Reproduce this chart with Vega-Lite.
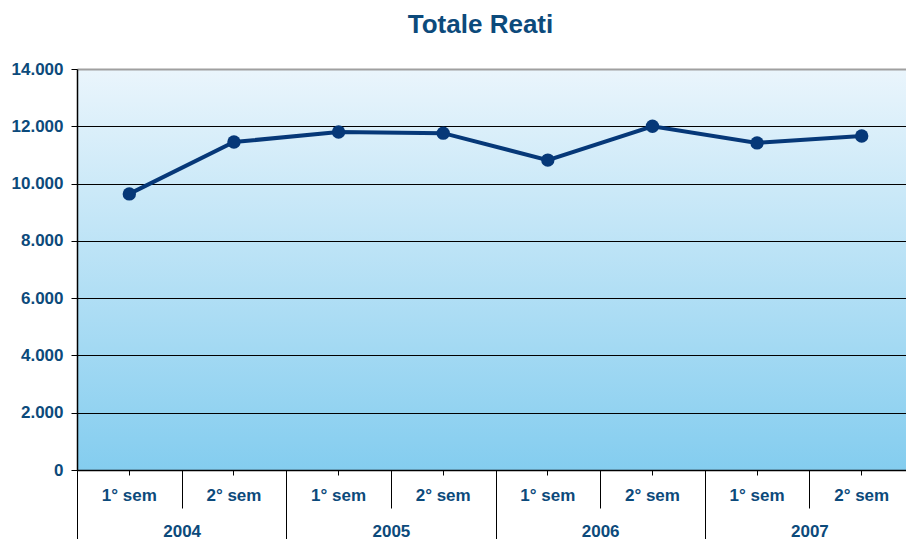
{
  "$schema": "https://vega.github.io/schema/vega-lite/v6.json",
  "width": 837,
  "height": 401,
  "autosize": "none",
  "padding": {"left": 77, "top": 69, "right": 0, "bottom": 69},
  "background": "white",
  "title": {
    "text": "Totale Reati",
    "frame": "group",
    "anchor": "middle",
    "dx": -15,
    "offset": 22,
    "fontSize": 26,
    "font": "Liberation Sans",
    "fontWeight": "bold",
    "color": "#0c4a7b"
  },
  "data": {
    "values": [
      {"period": "2004-1", "sem": "1° sem", "year": "2004", "value": 9640},
      {"period": "2004-2", "sem": "2° sem", "year": "2004", "value": 11450},
      {"period": "2005-1", "sem": "1° sem", "year": "2005", "value": 11800},
      {"period": "2005-2", "sem": "2° sem", "year": "2005", "value": 11760},
      {"period": "2006-1", "sem": "1° sem", "year": "2006", "value": 10820},
      {"period": "2006-2", "sem": "2° sem", "year": "2006", "value": 12000},
      {"period": "2007-1", "sem": "1° sem", "year": "2007", "value": 11420},
      {"period": "2007-2", "sem": "2° sem", "year": "2007", "value": 11660}
    ]
  },
  "config": {
    "view": {
      "stroke": null,
      "fill": {
        "gradient": "linear",
        "x1": 0, "y1": 0, "x2": 0, "y2": 1,
        "stops": [
          {"offset": 0, "color": "#eaf5fc"},
          {"offset": 1, "color": "#84cdef"}
        ]
      }
    },
    "axis": {
      "labelFont": "Liberation Sans",
      "labelFontWeight": "bold",
      "labelFontSize": 17,
      "labelColor": "#0c4a7b",
      "domainColor": "black",
      "tickColor": "black",
      "title": null
    }
  },
  "resolve": {"scale": {"x": "independent"}, "axis": {"x": "independent"}},
  "layer": [
    {
      "mark": {"type": "line", "color": "#063878", "strokeWidth": 4},
      "encoding": {
        "x": {
          "field": "period", "type": "ordinal",
          "scale": {"type": "band", "paddingInner": 0, "paddingOuter": 0},
          "axis": {
            "orient": "bottom",
            "labelExpr": "slice(datum.value, 5) == '1' ? '1° sem' : '2° sem'",
            "labelAngle": 0,
            "tickBand": "center",
            "tickSize": 5,
            "labelPadding": 12,
            "domain": true,
            "domainWidth": 1.5,
            "grid": false
          }
        },
        "y": {
          "field": "value", "type": "quantitative",
          "scale": {"domain": [0, 14000], "nice": false},
          "axis": {
            "values": [0, 2000, 4000, 6000, 8000, 10000, 12000, 14000],
            "labelExpr": "replace(format(datum.value, ','), ',', '.')",
            "grid": true,
            "gridColor": {"condition": {"test": "datum.value == 14000", "value": "#a0a0a0"}, "value": "black"},
            "gridWidth": {"condition": {"test": "datum.value == 14000", "value": 2}, "value": 1},
            "tickSize": 6,
            "labelPadding": 8,
            "domainWidth": 1.5
          }
        }
      }
    },
    {
      "mark": {"type": "point", "filled": true, "opacity": 1, "color": "#063878", "size": 180},
      "encoding": {
        "x": {
          "field": "period", "type": "ordinal",
          "scale": {"type": "band", "paddingInner": 0, "paddingOuter": 0},
          "axis": null
        },
        "y": {"field": "value", "type": "quantitative"}
      }
    },
    {
      "mark": {"type": "point", "opacity": 0},
      "encoding": {
        "x": {
          "field": "period", "type": "ordinal",
          "scale": {"type": "band", "paddingInner": 0, "paddingOuter": 0},
          "axis": {
            "orient": "bottom",
            "labels": false,
            "domain": false,
            "tickBand": "extent",
            "tickSize": 38,
            "grid": false
          }
        },
        "y": {"field": "value", "type": "quantitative"}
      }
    },
    {
      "mark": {"type": "point", "opacity": 0},
      "encoding": {
        "x": {
          "field": "year", "type": "ordinal",
          "scale": {"type": "band", "paddingInner": 0, "paddingOuter": 0},
          "axis": {
            "orient": "bottom",
            "labelAngle": 0,
            "domain": false,
            "tickBand": "extent",
            "tickSize": 69,
            "labelPadding": -16,
            "grid": false
          }
        },
        "y": {"field": "value", "type": "quantitative"}
      }
    }
  ]
}
